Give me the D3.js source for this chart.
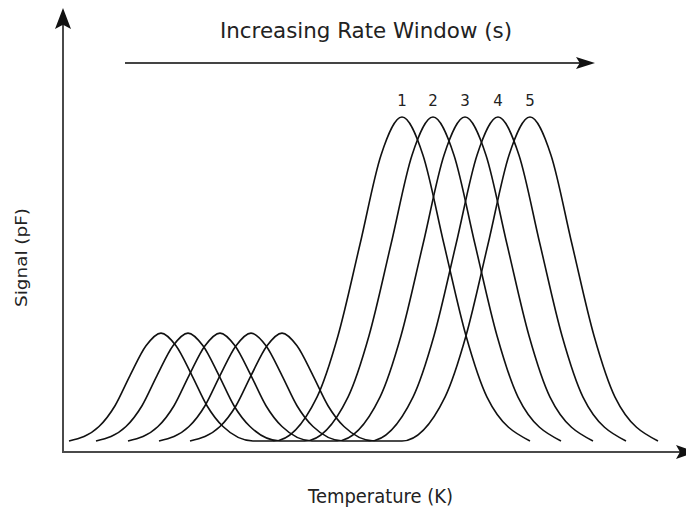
<!DOCTYPE html>
<html>
<head>
<meta charset="utf-8">
<script src="https://cdn.jsdelivr.net/npm/d3@7/dist/d3.min.js"></script>
<style>
  html, body { margin: 0; padding: 0; background: #fff; }
  svg { display: block; }
  text { font-family: "DejaVu Sans", Verdana, sans-serif; fill: #222; }
</style>
</head>
<body>
<script>
// Rate-window labels for the five spectra
const curveLabels = ["1", "2", "3", "4", "5"];

// Signal (pF) at the knots of every spectrum: minor peak, then major peak
const knotSignal = [
  0.33, 0.76, 1.38, 2.28, 3.17, 3.55, 3.17, 2.28, 1.38, 0.76, 0.33,
  0.33, 1.64, 3.47, 6.20, 8.86, 10.0, 8.86, 6.20, 3.47, 1.64, 0.33
];

// Temperature (K) of each knot, one row per rate window
const knotTemps = [
  [3, 18, 26, 33.5, 41.5, 49, 56.5, 64.5, 72, 80, 95,
   105.5, 127, 137.5, 148.5, 159, 169.5, 180, 190.5, 201.5, 212, 233.5],
  [16.5, 31.5, 39.5, 47, 55, 62.5, 70, 78, 85.5, 93.5, 108.5,
   121, 142.5, 153, 164, 174.5, 185, 195.5, 206, 217, 227.5, 249],
  [32.5, 47.5, 55.5, 63, 71, 78.5, 86, 94, 101.5, 109.5, 124.5,
   137, 158.5, 169, 180, 190.5, 201, 211.5, 222, 233, 243.5, 265],
  [48, 63, 71, 78.5, 86.5, 94, 101.5, 109.5, 117, 125, 140,
   153.5, 175, 185.5, 196.5, 207, 217.5, 228, 238.5, 249.5, 260, 281.5],
  [63.5, 78.5, 86.5, 94, 102, 109.5, 117, 125, 132.5, 140.5, 155.5,
   169.5, 191, 201.5, 212.5, 223, 233.5, 244, 254.5, 265.5, 276, 297.5]
];

// Index of the major-peak knot within each row
const majorPeakIndex = 16;

const W = 686, H = 511;
const svg = d3.select("body").append("svg").attr("width", W).attr("height", H);

const x = d3.scaleLinear().domain([0, 310]).range([63, 683]);
const y = d3.scaleLinear().domain([0, 10]).range([452, 117]);

const axisColor = "#4a4a4a";
const headColor = "#111";

// Arrowhead with a slightly notched base, pointing along angle (radians)
function arrowHead(tx, ty, angle, len, half) {
  const c = Math.cos(angle), s = Math.sin(angle);
  const pt = (a, b) => [tx - a * c - b * s, ty - a * s + b * c];
  const p = d3.path();
  const p1 = pt(len, half), p2 = pt(len * 0.8, 0), p3 = pt(len, -half);
  p.moveTo(tx, ty); p.lineTo(...p1); p.lineTo(...p2); p.lineTo(...p3); p.closePath();
  return p.toString();
}

// Axes
const x0 = x.range()[0], yBase = y.range()[0];
svg.append("line")
  .attr("x1", x0).attr("y1", yBase).attr("x2", 684).attr("y2", yBase)
  .attr("stroke", axisColor).attr("stroke-width", 2);
svg.append("path").attr("d", arrowHead(696, yBase, 0, 20, 7)).attr("fill", headColor);

svg.append("line")
  .attr("x1", x0).attr("y1", yBase + 1).attr("x2", x0).attr("y2", 20)
  .attr("stroke", axisColor).attr("stroke-width", 2);
svg.append("path").attr("d", arrowHead(x0, 8, -Math.PI / 2, 21, 8)).attr("fill", headColor);

// Rate-window arrow and caption
svg.append("line")
  .attr("x1", 125).attr("y1", 63).attr("x2", 585).attr("y2", 63)
  .attr("stroke", "#444").attr("stroke-width", 2);
svg.append("path").attr("d", arrowHead(595, 63, 0, 19, 6)).attr("fill", headColor);

svg.append("text")
  .attr("x", 220).attr("y", 38)
  .attr("font-size", 21)
  .attr("textLength", 292).attr("lengthAdjust", "spacingAndGlyphs")
  .text("Increasing Rate Window (s)");

// Axis titles
svg.append("text")
  .attr("x", 308).attr("y", 503)
  .attr("font-size", 20)
  .attr("textLength", 145).attr("lengthAdjust", "spacingAndGlyphs")
  .text("Temperature (K)");

svg.append("text")
  .attr("transform", "translate(27,307) rotate(-90)")
  .attr("font-size", 15)
  .attr("textLength", 99).attr("lengthAdjust", "spacingAndGlyphs")
  .text("Signal (pF)");

// Spectra
const line = d3.line()
  .x(d => x(d[0]))
  .y(d => y(d[1]))
  .curve(d3.curveMonotoneX);

const spectra = knotTemps.map(row => row.map((t, i) => [t, knotSignal[i]]));

svg.append("g")
  .selectAll("path")
  .data(spectra)
  .join("path")
  .attr("d", line)
  .attr("fill", "none")
  .attr("stroke", "#111")
  .attr("stroke-width", 1.6);

// Rate-window numbers above the major peaks
svg.append("g")
  .selectAll("text")
  .data(knotTemps)
  .join("text")
  .attr("x", row => x(row[majorPeakIndex]))
  .attr("y", 106)
  .attr("text-anchor", "middle")
  .attr("font-size", 15)
  .text((row, i) => curveLabels[i]);
</script>
</body>
</html>
